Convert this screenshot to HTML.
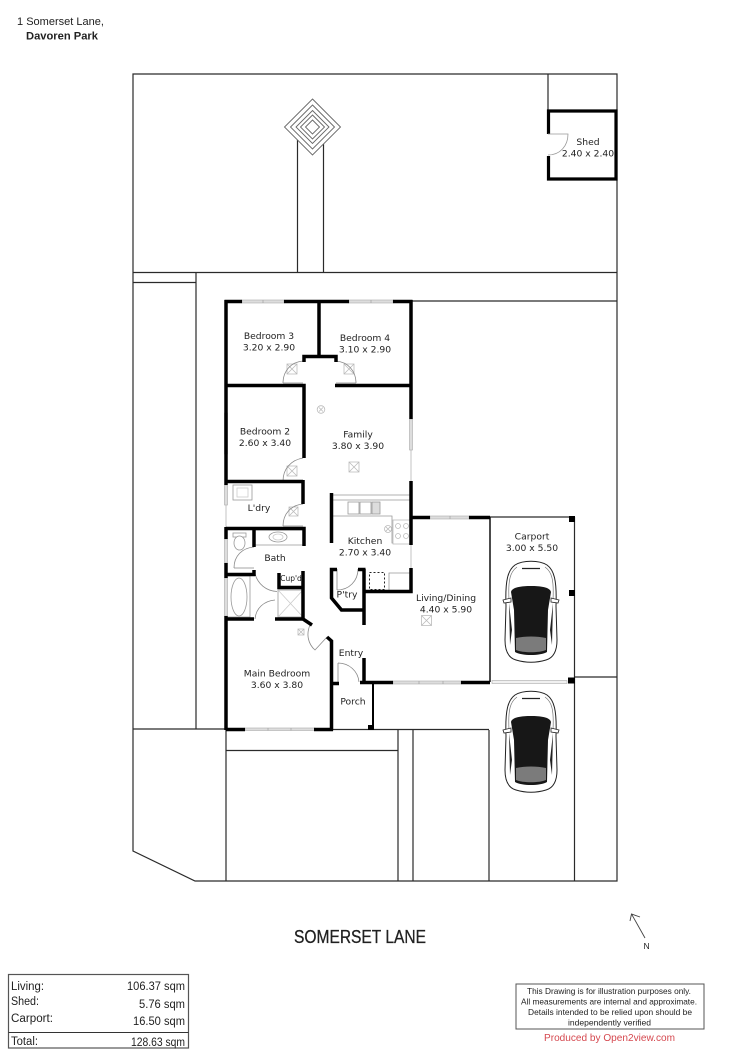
<!DOCTYPE html>
<html><head><meta charset="utf-8"><style>
html,body{margin:0;padding:0;background:#fff}
svg{display:block}
.r{font-family:"DejaVu Sans",sans-serif;font-size:9.2px;fill:#222;text-anchor:middle}
.l{font-family:"Liberation Sans",sans-serif;fill:#222}
</style></head><body>
<svg xmlns="http://www.w3.org/2000/svg" xmlns:xlink="http://www.w3.org/1999/xlink" width="750" height="1061" viewBox="0 0 750 1061">
<rect width="750" height="1061" fill="#fff"/>
<defs>
<g id="car">
<path d="M506 606 C505 580 508 570 515 565 C523 560 539 560 547 565 C554 570 557 580 556 606 L557 640 C557 652 553 658 546 660 C536 663 526 663 516 660 C509 658 505 652 505 640 Z" fill="#fff" stroke="#222" stroke-width="1"/>
<path d="M509 600 C508 580 510 572 517 567 M553 600 C554 580 552 572 545 567" fill="none" stroke="#777" stroke-width=".7"/>
<path d="M503 600 L511 598 L511 602 L504 603 Z M559 600 L551 598 L551 602 L558 603 Z" fill="#fff" stroke="#222" stroke-width=".8"/>
<path d="M522 568.500 H540" stroke="#222" stroke-width="1.300" fill="none"/>
<path d="M511 592 C512 587 522 586 531 586 C540 586 550 587 551 592 L548 610 L547 652 C540 656 522 656 515 652 L514 610 Z" fill="#171717"/>
<path d="M509 603 L512 630 L510 645 Z M553 603 L550 630 L552 645 Z" fill="#222"/>
<path d="M516 638 C525 636 537 636 546 638 L546 650 C539 653 523 653 516 650 Z" fill="#7b7b7b"/>
</g>
</defs>

<!-- site lines -->
<g fill="none" stroke="#2a2a2a" stroke-width="1.200">
<path d="M133 74H617V881H195L133 851Z"/>
<path d="M133 272.500H617M133 282.500H196M196 272.500V729M133 729H226M226 729V881M226 750.500H398M398 730V881M413 730V881M489 730V881M331 729.500H489M574.500 517V881M575 677H617M411 301H617M490 517H574M548 74V110M297.500 140V272M323.500 140V272"/>
</g>
<path d="M490 517V682" stroke="#111" stroke-width="1.500"/>

<!-- diamond -->
<g fill="#fff" stroke="#666" stroke-width=".9">
<path d="M312.500 99L340.500 127L312.500 155L284.500 127Z"/>
<path d="M312.500 105L334.500 127L312.500 149L290.500 127Z"/>
<path d="M312.500 110.500L329 127L312.500 143.500L296 127Z"/>
<path d="M312.500 115L324.500 127L312.500 139L300.500 127Z"/>
<path d="M312.500 120L319.500 127L312.500 134L305.500 127Z"/>
</g>

<!-- shed -->
<path d="M548.500 134V111H616V179H548.500V156" fill="#fff" stroke="#000" stroke-width="3.200"/>
<path d="M548 134H568C568 146 560 155 548 155" fill="none" stroke="#999" stroke-width=".8"/>

<!-- windows -->
<g fill="#ddd" stroke="#aaa" stroke-width=".6">
<rect x="242" y="300" width="42" height="3"/>
<rect x="349" y="300" width="44" height="3"/>
<rect x="409.500" y="419" width="3" height="31"/>
<rect x="224.500" y="413" width="3" height="41"/>
<rect x="224.500" y="485" width="3" height="20"/>
<rect x="224.500" y="539" width="3" height="24"/>
<rect x="224.500" y="578" width="3" height="38"/>
<rect x="245" y="728" width="70" height="2.500"/>
<rect x="430" y="516" width="39" height="3"/>
<rect x="393" y="681" width="68" height="3"/>
<rect x="492" y="680.500" width="75" height="3" fill="#f0f0f0"/>
<path d="M263 300v3M371 300v3M226 434v-1M419 681v3M443 681v3M450 516v3M268 728v2.500M291 728v2.500" stroke="#999"/>
</g>
<path d="M411 450V481M411 545V568M226 505V527" stroke="#aaa" stroke-width=".7" fill="none"/>

<!-- fixtures -->
<g fill="#fff" stroke="#999" stroke-width=".8">
<path d="M332 495H410M332 500H410M332 516H392V543H410"/>
<rect x="348" y="502" width="11" height="12"/>
<rect x="360" y="502" width="11" height="12"/>
<rect x="372" y="502" width="8" height="12" fill="#ddd"/>
<rect x="393" y="520" width="17" height="24" stroke="#bbb"/>
<circle cx="398" cy="526" r="2.500" stroke="#bbb"/><circle cx="406" cy="526" r="2.500" stroke="#bbb"/><circle cx="398" cy="536" r="2.500" stroke="#bbb"/><circle cx="406" cy="536" r="2.500" stroke="#bbb"/>
<circle cx="388" cy="529" r="3.500" stroke="#bbb"/>
<path d="M385.500 526.500l5 5m0-5l-5 5" stroke="#bbb"/>
<path d="M389 590V573H410"/>
<rect x="233" y="485" width="19" height="15"/>
<rect x="237" y="488" width="11" height="9" stroke="#ccc"/>
<rect x="233" y="533" width="13" height="4"/>
<ellipse cx="239.500" cy="543" rx="5.500" ry="7"/>
<path d="M255 530H303M255 545H303"/>
<ellipse cx="278" cy="537" rx="9" ry="5"/>
<ellipse cx="278" cy="537" rx="5" ry="3" stroke="#ccc"/>
<path d="M227 576H250V618M227 617H250"/>
<ellipse cx="239" cy="597" rx="8" ry="19"/>
<rect x="278" y="590" width="25" height="27"/>
<path d="M278 590L303 617M303 590L278 617" stroke="#ccc"/>
</g>
<rect x="369.500" y="572.500" width="15" height="17" fill="#fff" stroke="#222" stroke-width="1" stroke-dasharray="2 2"/>

<!-- vents -->
<g fill="#fff" stroke="#bbb" stroke-width=".8">
<path d="M287 364h10v10h-10zM287 364l10 10M297 364l-10 10"/>
<path d="M344 364h10v10h-10zM344 364l10 10M354 364l-10 10"/>
<path d="M287 466h10v10h-10zM287 466l10 10M297 466l-10 10"/>
<path d="M349 462h10v10h-10zM349 462l10 10M359 462l-10 10"/>
<path d="M289 507h9v9h-9zM289 507l9 9M298 507l-9 9"/>
<path d="M298 629h6v6h-6zM298 629l6 6M304 629l-6 6"/>
<path d="M421.500 615.500h10v10h-10zM421.500 615.500l10 10M431.500 615.500l-10 10"/>
<circle cx="321" cy="409.500" r="3.800"/>
<path d="M319 407.500l4 4m0-4l-4 4"/>
</g>

<!-- doors -->
<g fill="none" stroke="#888" stroke-width=".8">
<path d="M283 383C283 371 291 362 303 361M283 383H303"/>
<path d="M356 383C356 371 348 362 336 361M336 383H356"/>
<path d="M283 481C283 469 291 460 303 458"/>
<path d="M283 526C283 514 291 505 303 504M283 526H303"/>
<path d="M234 568C234 556 242 548 254 547M234 568H254"/>
<path d="M255 574C258 584 266 591 277 591.500"/>
<path d="M255 619C256 608 264 601 275 600"/>
<path d="M310 625C306 634 308 644 315 650L327 637"/>
<path d="M338 663C349 663 358 671 359 682M338 663V682"/>
<path d="M337 590C349 590 358 581 358 569M337 569V590"/>
</g>

<!-- walls -->
<g fill="none" stroke="#000" stroke-width="3.500" stroke-linecap="butt">
<path d="M226 485V300M224.500 301.500H242M284 301.500H349M393 301.500H412.500M411 300V419"/>
<path d="M319 301V356"/>
<path d="M304 362V356.500H336V362"/>
<path d="M226 385.500H304V458M335 385.500H411"/>
<path d="M226 481.500H303M303 480V504"/>
<path d="M411 481V545M411 568V591.500H365"/>
<path d="M410 517.500H430M469 517.500H490"/>
<path d="M331.500 493V543"/>
<path d="M226 527V539M226 563V578M226 616V730"/>
<path d="M226 528.500H304V546M226 574.500H255M254 530V547M254 570V576"/>
<path d="M303 571V618.500M279 573V587.500H303"/>
<path d="M226 619H254M275 619H303L312 625"/>
<path d="M327 637L331.500 641V730.500"/>
<path d="M226 729.500H245M314 729.500H333"/>
<path d="M331 683.500H339M360 682.500H393M364 658V684M461 682.500H490"/>
<path d="M337 569.500H331.500V598L341.500 610H364M364 569V625M358 569.500H365.500"/>
</g>
<path d="M373 682V729" stroke="#000" stroke-width="2"/>
<g fill="#000">
<rect x="368" y="725" width="6" height="5"/>
<rect x="569" y="516" width="6" height="6"/>
<rect x="569" y="590" width="6" height="6"/>
<rect x="568" y="677.500" width="7" height="6"/>
</g>

<!-- cars -->
<use xlink:href="#car"/>
<use xlink:href="#car" y="130"/>

<!-- room labels -->
<text class="r" x="269" y="339">Bedroom 3</text><text class="r" x="269" y="350.500">3.20 x 2.90</text>
<text class="r" x="365" y="341">Bedroom 4</text><text class="r" x="365" y="352.500">3.10 x 2.90</text>
<text class="r" x="265" y="434.500">Bedroom 2</text><text class="r" x="265" y="446">2.60 x 3.40</text>
<text class="r" x="358" y="437.500">Family</text><text class="r" x="358" y="449">3.80 x 3.90</text>
<text class="r" x="259" y="511">L'dry</text>
<text class="r" x="365" y="544">Kitchen</text><text class="r" x="365" y="555.500">2.70 x 3.40</text>
<text class="r" x="275" y="561">Bath</text>
<text class="r" x="291" y="581" style="font-size:7.500px">Cup'd</text>
<text class="r" x="347" y="597.500">P'try</text>
<text class="r" x="277" y="676.500">Main Bedroom</text><text class="r" x="277" y="688">3.60 x 3.80</text>
<text class="r" x="351" y="656">Entry</text>
<text class="r" x="353" y="704.500">Porch</text>
<text class="r" x="446" y="601">Living/Dining</text><text class="r" x="446" y="612.500">4.40 x 5.90</text>
<text class="r" x="532" y="539.500">Carport</text><text class="r" x="532" y="551">3.00 x 5.50</text>
<text class="r" x="588" y="145">Shed</text><text class="r" x="588" y="156.500">2.40 x 2.40</text>

<!-- header -->
<text class="l" x="17" y="25" font-size="11" textLength="87" lengthAdjust="spacingAndGlyphs">1 Somerset Lane,</text>
<text class="l" x="26" y="39.500" font-size="11" font-weight="bold" fill="#111" textLength="72" lengthAdjust="spacingAndGlyphs">Davoren Park</text>

<!-- street -->
<text class="l" x="294" y="943" font-size="18" fill="#111" stroke="#111" stroke-width=".25" textLength="132" lengthAdjust="spacingAndGlyphs">SOMERSET LANE</text>

<!-- north -->
<path d="M645 938L631.500 914M630 921L631.500 914L640 917" fill="none" stroke="#444" stroke-width=".9"/>
<text class="l" x="643.500" y="949" font-size="8.500">N</text>

<!-- area table -->
<rect x="8.500" y="974.500" width="180" height="73.500" fill="none" stroke="#555" stroke-width="1.200"/>
<path d="M8.500 1032.500H188.500" stroke="#333" stroke-width="1"/>
<g class="l" font-size="11.500">
<text class="l" x="11" y="990" textLength="33" lengthAdjust="spacingAndGlyphs">Living:</text>
<text class="l" x="11" y="1005" textLength="28" lengthAdjust="spacingAndGlyphs">Shed:</text>
<text class="l" x="11" y="1022" textLength="42" lengthAdjust="spacingAndGlyphs">Carport:</text>
<text class="l" x="11" y="1045" textLength="27" lengthAdjust="spacingAndGlyphs">Total:</text>
<text class="l" x="127" y="990" textLength="58" lengthAdjust="spacingAndGlyphs">106.37 sqm</text>
<text class="l" x="139" y="1008" textLength="46" lengthAdjust="spacingAndGlyphs">5.76 sqm</text>
<text class="l" x="133" y="1025" textLength="52" lengthAdjust="spacingAndGlyphs">16.50 sqm</text>
<text class="l" x="131" y="1046" textLength="54" lengthAdjust="spacingAndGlyphs">128.63 sqm</text>
</g>

<!-- disclaimer -->
<rect x="516" y="984" width="188" height="45" fill="none" stroke="#555" stroke-width="1"/>
<g font-family="Liberation Sans,sans-serif" font-size="8.500" fill="#222">
<text x="527" y="994" textLength="164" lengthAdjust="spacingAndGlyphs">This Drawing is for illustration purposes only.</text>
<text x="521" y="1004.500" textLength="176" lengthAdjust="spacingAndGlyphs">All measurements are internal and approximate.</text>
<text x="528" y="1015" textLength="164" lengthAdjust="spacingAndGlyphs">Details intended to be relied upon should be</text>
<text x="568" y="1025.500" textLength="83" lengthAdjust="spacingAndGlyphs">independently verified</text>
</g>
<text x="544" y="1041" font-family="Liberation Sans,sans-serif" font-size="10.500" fill="#d5484f" textLength="131" lengthAdjust="spacingAndGlyphs">Produced by Open2view.com</text>
</svg>
</body></html>
